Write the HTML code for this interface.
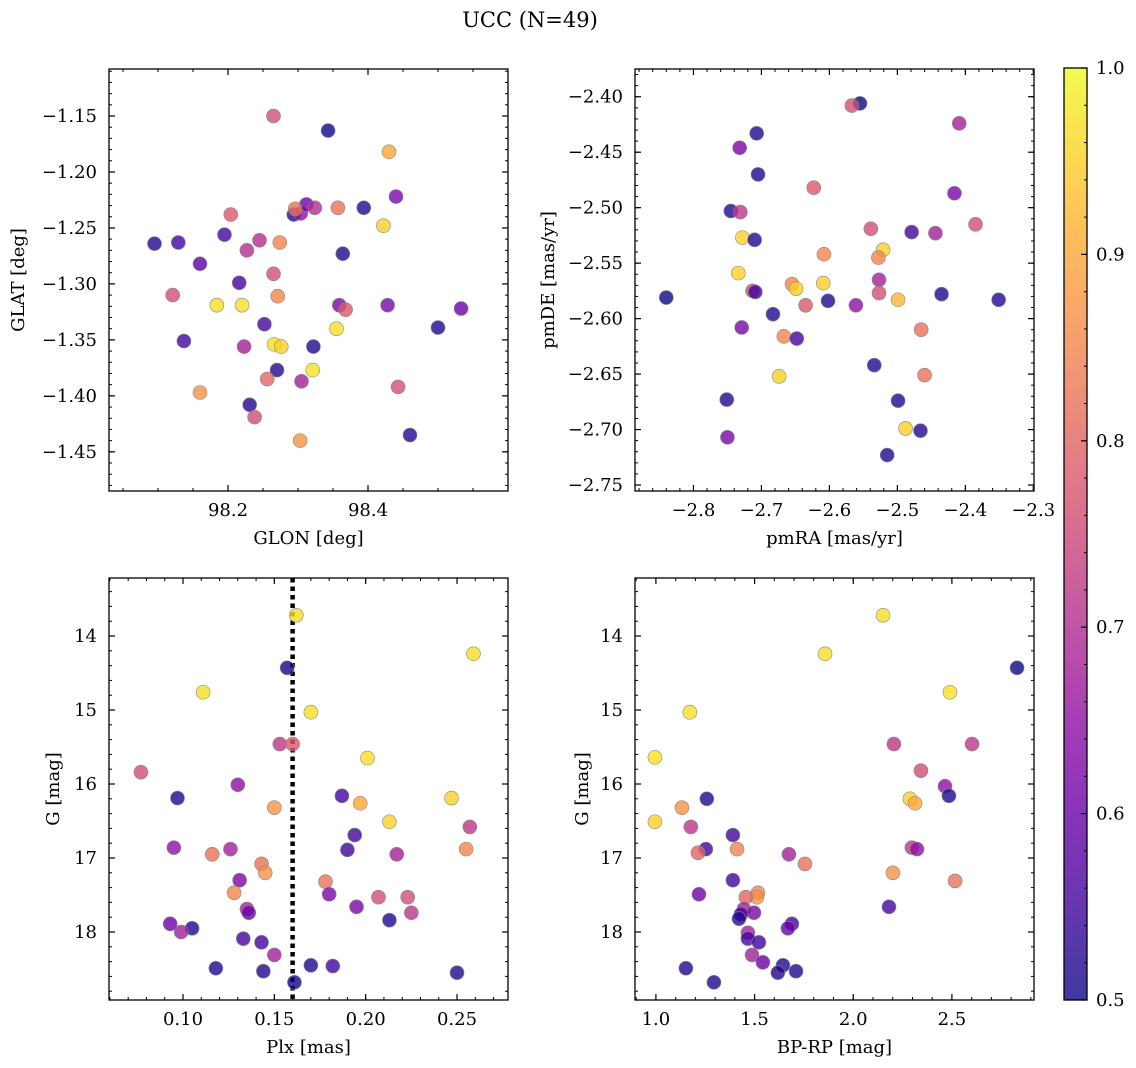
<!DOCTYPE html>
<html><head><meta charset="utf-8"><style>
body{margin:0;background:#fff;}
svg{display:block;font-family:"DejaVu Serif","Liberation Serif",serif;}
</style></head><body>
<svg id="fig" width="1136" height="1068" viewBox="0 0 1136 1068" xmlns="http://www.w3.org/2000/svg">
<defs>
<linearGradient id="plasma" x1="0" y1="1" x2="0" y2="0">
<stop offset="0" stop-color="#0d0887"/><stop offset="0.1" stop-color="#41049d"/><stop offset="0.2" stop-color="#6a00a8"/><stop offset="0.3" stop-color="#8f0da4"/><stop offset="0.4" stop-color="#b12a90"/><stop offset="0.5" stop-color="#cc4778"/><stop offset="0.6" stop-color="#e16462"/><stop offset="0.7" stop-color="#f2844b"/><stop offset="0.8" stop-color="#fca636"/><stop offset="0.9" stop-color="#fcce25"/><stop offset="1" stop-color="#f0f921"/>
</linearGradient>
</defs>
<text x="530" y="27" font-size="21" text-anchor="middle">UCC (N=49)</text>
</svg>
<script>
// ---- data ----
const glon = [98.265,98.343,98.430,98.440,98.204,98.294,98.304,98.312,98.296,98.324,98.357,98.394,98.422,98.095,98.129,98.195,98.245,98.227,98.274,98.364,98.160,98.265,98.216,98.121,98.271,98.184,98.220,98.359,98.368,98.428,98.533,98.252,98.355,98.500,98.137,98.223,98.266,98.276,98.322,98.270,98.321,98.256,98.305,98.443,98.160,98.231,98.238,98.303,98.460];
const glat = [-1.150,-1.163,-1.182,-1.222,-1.238,-1.238,-1.237,-1.229,-1.233,-1.232,-1.232,-1.232,-1.248,-1.264,-1.263,-1.256,-1.261,-1.270,-1.263,-1.273,-1.282,-1.291,-1.299,-1.310,-1.311,-1.319,-1.319,-1.319,-1.323,-1.319,-1.322,-1.336,-1.340,-1.339,-1.351,-1.356,-1.354,-1.356,-1.356,-1.377,-1.377,-1.385,-1.387,-1.392,-1.397,-1.408,-1.419,-1.440,-1.435];
const probGal = [0.76,0.5,0.9,0.62,0.78,0.52,0.65,0.6,0.82,0.7,0.82,0.52,0.95,0.52,0.55,0.55,0.7,0.7,0.85,0.52,0.58,0.76,0.55,0.76,0.85,0.97,0.97,0.62,0.78,0.62,0.6,0.55,0.97,0.52,0.55,0.68,0.97,0.95,0.52,0.52,0.97,0.8,0.68,0.76,0.87,0.52,0.76,0.87,0.52];
const pmra = [-2.555,-2.567,-2.409,-2.707,-2.732,-2.705,-2.623,-2.416,-2.745,-2.731,-2.385,-2.539,-2.444,-2.479,-2.728,-2.710,-2.521,-2.608,-2.528,-2.734,-2.609,-2.655,-2.527,-2.713,-2.709,-2.649,-2.527,-2.435,-2.840,-2.351,-2.499,-2.602,-2.635,-2.561,-2.683,-2.465,-2.729,-2.667,-2.648,-2.534,-2.460,-2.674,-2.751,-2.499,-2.488,-2.466,-2.750,-2.515];
const pmde = [-2.406,-2.408,-2.424,-2.433,-2.446,-2.470,-2.482,-2.487,-2.503,-2.504,-2.515,-2.519,-2.523,-2.522,-2.527,-2.529,-2.538,-2.542,-2.545,-2.559,-2.568,-2.569,-2.565,-2.575,-2.576,-2.573,-2.577,-2.578,-2.581,-2.583,-2.583,-2.584,-2.588,-2.588,-2.596,-2.610,-2.608,-2.616,-2.618,-2.642,-2.651,-2.652,-2.673,-2.674,-2.699,-2.701,-2.707,-2.723];
const probPm = [0.5,0.76,0.68,0.52,0.62,0.52,0.78,0.62,0.52,0.72,0.76,0.76,0.68,0.55,0.95,0.52,0.95,0.85,0.85,0.95,0.95,0.85,0.68,0.75,0.55,0.95,0.76,0.52,0.5,0.52,0.92,0.52,0.78,0.65,0.52,0.82,0.62,0.85,0.55,0.52,0.82,0.95,0.52,0.52,0.95,0.52,0.62,0.52];
const plx = [0.162,0.259,0.157,0.111,0.170,0.153,0.160,0.077,0.201,0.097,0.187,0.197,0.247,0.130,0.150,0.213,0.257,0.194,0.095,0.190,0.116,0.126,0.217,0.255,0.143,0.145,0.131,0.178,0.128,0.180,0.223,0.207,0.135,0.136,0.195,0.225,0.213,0.093,0.105,0.099,0.133,0.143,0.118,0.144,0.170,0.182,0.150,0.250,0.161];
const gPlx = [13.72,14.24,14.43,14.76,15.03,15.46,15.46,15.84,15.65,16.19,16.16,16.26,16.19,16.01,16.32,16.51,16.58,16.69,16.86,16.89,16.95,16.88,16.95,16.88,17.08,17.20,17.30,17.32,17.47,17.49,17.53,17.53,17.69,17.74,17.66,17.74,17.84,17.89,17.95,18.00,18.09,18.14,18.49,18.53,18.45,18.46,18.31,18.55,18.68];
const probPlx = [0.97,0.97,0.5,0.97,0.97,0.72,0.78,0.76,0.97,0.52,0.55,0.9,0.95,0.65,0.87,0.95,0.72,0.55,0.65,0.55,0.82,0.68,0.68,0.85,0.82,0.87,0.62,0.82,0.85,0.62,0.76,0.76,0.68,0.6,0.62,0.72,0.52,0.6,0.52,0.68,0.55,0.55,0.52,0.52,0.52,0.55,0.68,0.52,0.5];
const bprp = [2.151,1.857,2.830,2.490,1.172,2.206,2.602,0.995,2.343,2.465,2.485,2.287,2.313,1.258,1.132,1.177,0.995,1.390,1.253,1.411,2.297,2.323,1.213,1.674,1.755,2.201,2.516,1.390,1.517,1.512,1.456,1.218,2.181,1.446,1.497,1.431,1.421,1.689,1.669,1.466,1.466,1.522,1.487,1.542,1.644,1.152,1.710,1.618,1.294];
const gCmd = [13.72,14.24,14.43,14.76,15.03,15.46,15.46,15.64,15.82,16.03,16.16,16.20,16.26,16.20,16.32,16.58,16.51,16.69,16.88,16.88,16.86,16.88,16.93,16.95,17.08,17.20,17.31,17.30,17.47,17.53,17.53,17.49,17.66,17.69,17.74,17.76,17.82,17.89,17.95,18.01,18.09,18.14,18.31,18.41,18.45,18.49,18.53,18.55,18.68];
const probCmd = [0.97,0.97,0.5,0.97,0.97,0.72,0.72,0.97,0.76,0.65,0.52,0.95,0.9,0.52,0.87,0.72,0.95,0.55,0.55,0.85,0.72,0.65,0.8,0.68,0.82,0.87,0.82,0.55,0.85,0.87,0.8,0.6,0.55,0.68,0.62,0.55,0.52,0.55,0.6,0.68,0.55,0.55,0.68,0.6,0.52,0.52,0.52,0.52,0.52];
const plxLine = [0.160];
const glonTicks = [98.2,98.4];
const glatTicks = [-1.15,-1.20,-1.25,-1.30,-1.35,-1.40,-1.45];
const pmraTicks = [-2.8,-2.7,-2.6,-2.5,-2.4,-2.3];
const pmdeTicks = [-2.40,-2.45,-2.50,-2.55,-2.60,-2.65,-2.70,-2.75];
const plxTicks = [0.10,0.15,0.20,0.25];
const gTicks = [14,15,16,17,18];
const bprpTicks = [1.0,1.5,2.0,2.5];
const cbTicks = [0.5,0.6,0.7,0.8,0.9,1.0];

const NS='http://www.w3.org/2000/svg';
const svg=document.getElementById('fig');
function mk(tag,attrs,parent){const e=document.createElementNS(NS,tag);for(const k in attrs)e.setAttribute(k,attrs[k]);(parent||svg).appendChild(e);return e;}
const stops=[[13,8,135],[65,4,157],[106,0,168],[143,13,164],[177,42,144],[204,71,120],[225,100,98],[242,132,75],[252,166,54],[252,206,37],[240,249,33]];
function plasma(v){let t=(v-0.5)/0.5;t=Math.max(0,Math.min(1,t))*10;const i=Math.min(9,Math.floor(t)),f=t-i;const a=stops[i],b=stops[i+1];return 'rgb('+[0,1,2].map(k=>Math.round(a[k]+(b[k]-a[k])*f)).join(',')+')';}
function fmt(v,d){return (v<0?'\u2212':'')+Math.abs(v).toFixed(d);}

function panel(cfg){
  const {x0,x1,y0,y1,xd,yd,name}=cfg;
  const sx=v=>x0+(v-xd[0])/(xd[1]-xd[0])*(x1-x0);
  const sy=v=>y1-(v-yd[0])/(yd[1]-yd[0])*(y1-y0);
  const g=mk('g',{});
  
  
  const minor=(lo,hi,step,fn)=>{const s=Math.ceil(Math.min(lo,hi)/step-1e-6),e=Math.floor(Math.max(lo,hi)/step+1e-6);for(let i=s;i<=e;i++)fn(i*step);};
  minor(xd[0],xd[1],cfg.xm,v=>{const x=sx(v);mk('line',{x1:x,x2:x,y1:y1,y2:y1-3,stroke:'#000','stroke-width':1},g);mk('line',{x1:x,x2:x,y1:y0,y2:y0+3,stroke:'#000','stroke-width':1},g);});
  minor(yd[0],yd[1],cfg.ym,v=>{const y=sy(v);mk('line',{x1:x0,x2:x0+3,y1:y,y2:y,stroke:'#000','stroke-width':1},g);mk('line',{x1:x1,x2:x1-3,y1:y,y2:y,stroke:'#000','stroke-width':1},g);});
  cfg.xt.forEach(v=>{const x=sx(v);mk('line',{x1:x,x2:x,y1:y1,y2:y1-6,stroke:'#000','stroke-width':1.2},g);mk('line',{x1:x,x2:x,y1:y0,y2:y0+6,stroke:'#000','stroke-width':1.2},g);
    const t=mk('text',{x:x,y:y1+25,'font-size':18,'text-anchor':'middle'},g);t.textContent=fmt(v,cfg.xdp);
    
    });
  cfg.yt.forEach(v=>{const y=sy(v);mk('line',{x1:x0,x2:x0+6,y1:y,y2:y,stroke:'#000','stroke-width':1.2},g);mk('line',{x1:x1,x2:x1-6,y1:y,y2:y,stroke:'#000','stroke-width':1.2},g);
    const t=mk('text',{x:x0-12,y:y+6,'font-size':18,'text-anchor':'end'},g);t.textContent=fmt(v,cfg.ydp);
    
    });
  if(cfg.vline){cfg.vline.forEach(v=>{const l=mk('line',{x1:sx(v),x2:sx(v),y1:y0,y2:y1,stroke:'#000','stroke-width':4.5,'stroke-dasharray':'4.5 4'},g);
    
    });}
  cfg.xs.forEach((v,i)=>{const c=mk('circle',{cx:sx(v),cy:sy(cfg.ys[i]),r:7,fill:plasma(cfg.cs[i]),'fill-opacity':0.8,stroke:'#888','stroke-width':0.6},g);
    
    });
  mk('rect',{x:x0,y:y0,width:x1-x0,height:y1-y0,fill:'none',stroke:'#000','stroke-width':1.3},g);
  const xl=mk('text',{x:(x0+x1)/2,y:y1+53,'font-size':18,'text-anchor':'middle'},g);xl.textContent=cfg.xlabel;
  
  
  const ylx=cfg.ylx,yly=(y0+y1)/2;
  const yl=mk('text',{x:ylx,y:yly,'font-size':18,'text-anchor':'middle',transform:'rotate(-90 '+ylx+' '+yly+')'},g);yl.textContent=cfg.ylabel;
  
  
}
panel({name:'galactic-panel',x0:109,x1:508,y0:69,y1:491,xd:[98.030,98.600],yd:[-1.485,-1.108],xt:glonTicks,yt:glatTicks,xm:0.05,ym:0.01,xdp:1,ydp:2,xs:glon,ys:glat,cs:probGal,xlabel:'GLON [deg]',ylabel:'GLAT [deg]',ylx:24});
panel({name:'proper-motion-panel',x0:635,x1:1034,y0:69,y1:491,xd:[-2.886,-2.299],yd:[-2.7554,-2.375],xt:pmraTicks,yt:pmdeTicks,xm:0.02,ym:0.01,xdp:1,ydp:2,xs:pmra,ys:pmde,cs:probPm,xlabel:'pmRA [mas/yr]',ylabel:'pmDE [mas/yr]',ylx:554});
panel({name:'parallax-panel',x0:109,x1:508,y0:578,y1:1000,xd:[0.0595,0.2779],yd:[18.919,13.216],xt:plxTicks,yt:gTicks,xm:0.01,ym:0.2,xdp:2,ydp:0,xs:plx,ys:gPlx,cs:probPlx,xlabel:'Plx [mas]',ylabel:'G [mag]',ylx:59,vline:plxLine});
panel({name:'cmd-panel',x0:635,x1:1034,y0:578,y1:1000,xd:[0.894,2.916],yd:[18.919,13.216],xt:bprpTicks,yt:gTicks,xm:0.1,ym:0.2,xdp:1,ydp:0,xs:bprp,ys:gCmd,cs:probCmd,xlabel:'BP-RP [mag]',ylabel:'G [mag]',ylx:588});

// colorbar
const cb=mk('g',{});


const cy0=68,cy1=1000,cx0=1064,cx1=1087;
const cy=v=>cy1-(v-0.5)/0.5*(cy1-cy0);
mk('rect',{x:cx0,y:cy0,width:cx1-cx0,height:cy1-cy0,fill:'#fff'},cb);
mk('rect',{x:cx0,y:cy0,width:cx1-cx0,height:cy1-cy0,fill:'url(#plasma)','fill-opacity':0.8},cb);
for(let i=0;i<=25;i++){const v=0.5+i*0.02;const y=cy(v);mk('line',{x1:cx1,x2:cx1-3,y1:y,y2:y,stroke:'#000','stroke-width':1},cb);}
cbTicks.forEach(v=>{const y=cy(v);mk('line',{x1:cx1,x2:cx1-6,y1:y,y2:y,stroke:'#000','stroke-width':1.2},cb);
  const t=mk('text',{x:1096,y:y+6,'font-size':18},cb);t.textContent=v.toFixed(1);
  
  });
mk('rect',{x:cx0,y:cy0,width:cx1-cx0,height:cy1-cy0,fill:'none',stroke:'#000','stroke-width':1.3},cb);
</script>
</body></html>
